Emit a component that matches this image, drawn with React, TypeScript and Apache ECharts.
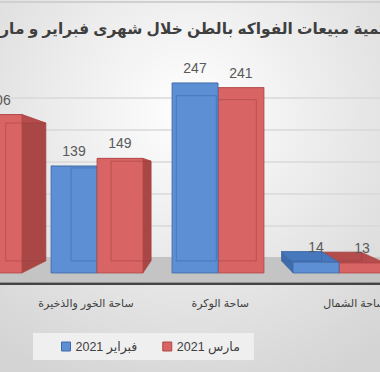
import { useEffect, useRef } from 'react';
import * as echarts from 'echarts';

const TITLE = 'كمية مبيعات الفواكه بالطن خلال شهرى فبراير و مارس';
const CATEGORIES = ['السوق المركزي', 'ساحة الخور والذخيرة', 'ساحة الوكرة', 'ساحة الشمال'];
const SERIES_NAMES = ['فبراير 2021', 'مارس 2021'];
const FEB_VALUES = [190, 139, 247, 14];
const MAR_VALUES = [206, 149, 241, 13];
const Y_MAX = 250;
const Y_INTERVAL = 50;

const FONT = "'Liberation Sans', 'DejaVu Sans', sans-serif";
const VX = 205;
const VY = 180;
const K = 0.87;

const BLUE = { front: '#5d8fd4', side: '#3f6cab', top: '#4777bd', stroke: '#3f6aa6', edge: '#34609e' };
const RED = { front: '#d96464', side: '#a94747', top: '#b44c4c', stroke: '#b04646', edge: '#963a3a' };

function makeRender(side: number, pal: typeof BLUE) {
  return (params: any, api: any) => {
    const i = api.value(0);
    const v = api.value(1);
    const pTop = api.coord([i, v]);
    const pBase = api.coord([i, 0]);
    const band = api.size([1, 0])[0];
    const w = band * 0.38;
    const x0 = side < 0 ? pTop[0] - w : pTop[0];
    const x1 = x0 + w;
    const yt = pTop[1];
    const yb = pBase[1];
    const bx0 = VX + (x0 - VX) * K;
    const bx1 = VX + (x1 - VX) * K;
    const byt = VY + (yt - VY) * K;
    const byb = VY + (yb - VY) * K;
    const rank = Math.round(1000 - Math.abs((x0 + x1) / 2 - VX)) * 10;
    const children: any[] = [];
    if (x1 < VX) {
      children.push({ type: 'polygon', z2: rank, shape: { points: [[x1, yt], [bx1, byt], [bx1, byb], [x1, yb]] }, style: { fill: pal.side, stroke: pal.stroke, lineWidth: 0.6 } });
    }
    if (x0 > VX) {
      children.push({ type: 'polygon', z2: rank, shape: { points: [[x0, yt], [bx0, byt], [bx0, byb], [x0, yb]] }, style: { fill: pal.side, stroke: pal.stroke, lineWidth: 0.6 } });
    }
    children.push({ type: 'polygon', z2: rank + 1, shape: { points: [[x0, yt], [x1, yt], [bx1, byt], [bx0, byt]] }, style: { fill: pal.top, stroke: pal.stroke, lineWidth: 0.6 } });
    children.push({ type: 'rect', z2: rank + 2, shape: { x: x0, y: yt, width: w, height: yb - yt }, style: { fill: pal.front, stroke: pal.stroke, lineWidth: 0.8 } });
    const edgeStyle = { stroke: pal.edge, lineWidth: 1, opacity: 0.45 };
    children.push({ type: 'line', z2: rank + 3, shape: { x1: bx0, y1: byt, x2: bx0, y2: byb }, style: edgeStyle });
    children.push({ type: 'line', z2: rank + 3, shape: { x1: bx1, y1: byt, x2: bx1, y2: byb }, style: edgeStyle });
    children.push({ type: 'line', z2: rank + 3, shape: { x1: bx0, y1: byt, x2: bx1, y2: byt }, style: edgeStyle });
    children.push({ type: 'line', z2: rank + 3, shape: { x1: bx0, y1: byb, x2: bx1, y2: byb }, style: edgeStyle });
    children.push({
      type: 'text', z2: 100000,
      style: { x: (x0 + x1) / 2, y: yt - 15, text: String(v), fill: '#595959', font: `14px ${FONT}`, align: 'center', verticalAlign: 'middle' },
    });
    return { type: 'group', children };
  };
}

export default function App() {
  const ref = useRef<HTMLDivElement>(null);
  useEffect(() => {
    document.body.style.margin = '0';
    if (!ref.current) return;
    const chart = echarts.init(ref.current, undefined, { renderer: 'svg' });
    chart.setOption({
      animation: false,
      textStyle: { fontFamily: FONT },
      legend: {
        left: 33,
        top: 333,
        padding: [7, 14, 7, 28],
        itemGap: 25,
        itemWidth: 9,
        itemHeight: 9,
        backgroundColor: '#efefef',
        textStyle: { fontSize: 12.5, color: '#404040', fontFamily: FONT },
        data: [
          { name: SERIES_NAMES[0], icon: 'rect', itemStyle: { color: BLUE.front, borderColor: BLUE.stroke, borderWidth: 1 } },
          { name: SERIES_NAMES[1], icon: 'rect', itemStyle: { color: RED.front, borderColor: RED.stroke, borderWidth: 1 } },
        ],
      },
      graphic: [
        {
          type: 'rect', z: -10, silent: true,
          shape: { x: 0, y: 0, width: 380, height: 372 },
          style: {
            fill: new echarts.graphic.RadialGradient(0.5, 0.3, 0.8, [
              { offset: 0, color: '#ffffff' },
              { offset: 1, color: '#d4d4d4' },
            ]),
          },
        },
        { type: 'rect', z: -9, silent: true, shape: { x: 0, y: 1, width: 380, height: 2 }, style: { fill: '#d0d0d0' } },
        { type: 'rect', z: 1, silent: true, shape: { x: 0, y: 257, width: 380, height: 25 }, style: { fill: '#c4c4c4' } },
        { type: 'rect', z: 1, silent: true, shape: { x: 0, y: 282.5, width: 380, height: 2.5 }, style: { fill: '#444444' } },
        {
          type: 'text', z: 5, silent: true, x: -21, y: 28,
          style: { text: TITLE, align: 'left', verticalAlign: 'middle', fill: '#3f3f3f', font: `bold 15.4px ${FONT}` },
        },
      ],
      grid: [
        { left: -84.5, width: 484, top: 80.75, height: 192.25, outerBoundsMode: 'none', containLabel: false },
        { left: 0, width: 380, top: 98, height: 160, outerBoundsMode: 'none', containLabel: false },
        { left: -115.3, width: 536.8, top: 280, height: 9, outerBoundsMode: 'none', containLabel: false },
      ],
      xAxis: [
        { type: 'category', gridIndex: 0, data: CATEGORIES, show: false },
        { type: 'value', gridIndex: 1, show: false, min: 0, max: 1 },
        {
          type: 'category', gridIndex: 2, data: CATEGORIES,
          axisLine: { show: false }, axisTick: { show: false },
          axisLabel: { margin: 8, fontSize: 11, color: '#404040', fontFamily: FONT, interval: 0 },
        },
      ],
      yAxis: [
        { type: 'value', gridIndex: 0, min: 0, max: Y_MAX, interval: Y_INTERVAL, show: false },
        {
          type: 'value', gridIndex: 1, min: 0, max: Y_MAX, interval: Y_INTERVAL,
          axisLine: { show: false }, axisTick: { show: false }, axisLabel: { show: false },
          splitLine: { show: true, lineStyle: { color: '#d9d9d9', width: 1.5 } },
        },
        { type: 'value', gridIndex: 2, show: false, min: 0, max: 1 },
      ],
      series: [
        {
          type: 'custom', name: SERIES_NAMES[0], xAxisIndex: 0, yAxisIndex: 0,
          itemStyle: { color: BLUE.front },
          renderItem: makeRender(-1, BLUE),
          data: FEB_VALUES.map((v, i) => [i, v]),
        },
        {
          type: 'custom', name: SERIES_NAMES[1], xAxisIndex: 0, yAxisIndex: 0,
          itemStyle: { color: RED.front },
          renderItem: makeRender(1, RED),
          data: MAR_VALUES.map((v, i) => [i, v]),
        },
      ],
    });
    return () => chart.dispose();
  }, []);
  return <div ref={ref} style={{ width: 380, height: 372 }} />;
}
